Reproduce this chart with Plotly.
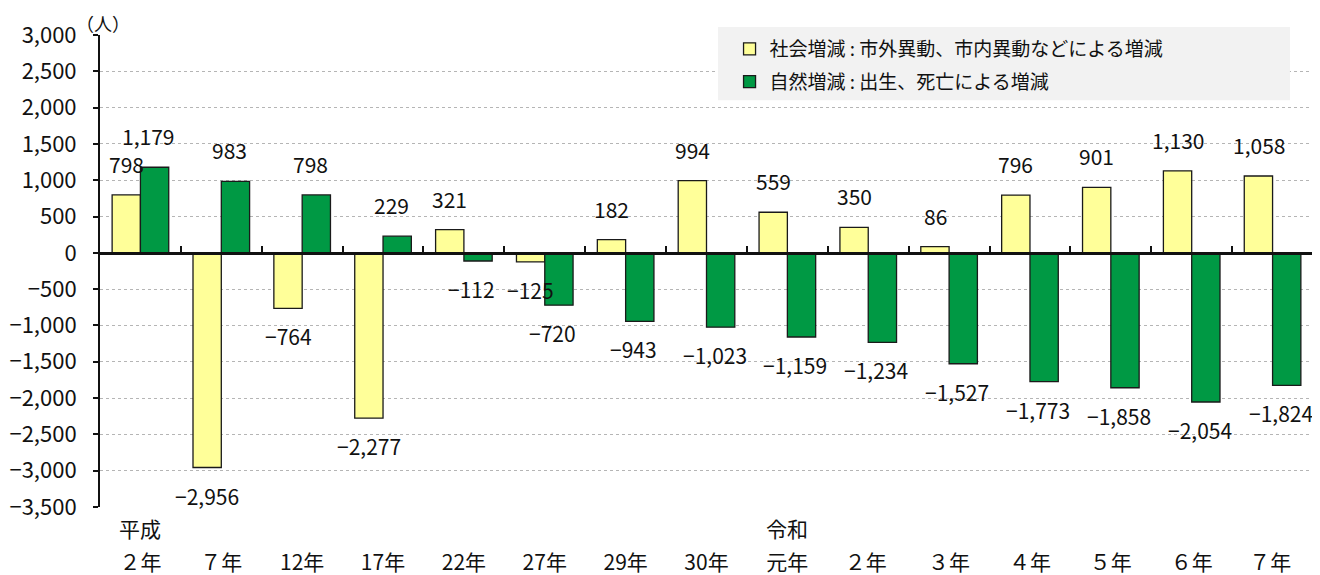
import plotly.graph_objects as go

categories = ["２年", "７年", "12年", "17年", "22年", "27年", "29年", "30年",
              "元年", "２年 ", "３年", "４年", "５年", "６年", "７年 "]
era_labels = {0: "平成", 8: "令和"}
social = [798, -2956, -764, -2277, 321, -125, 182, 994, 559, 350, 86, 796, 901, 1130, 1058]
natural = [1179, 983, 798, 229, -112, -720, -943, -1023, -1159, -1234, -1527, -1773, -1858, -2054, -1824]
series_names = ["社会増減 : 市外異動、市内異動などによる増減", "自然増減 : 出生、死亡による増減"]
y_ticks = list(range(-3500, 3001, 500))

FONT = "Noto Sans CJK JP, Noto Sans, sans-serif"
YELLOW = "#FFFF99"
GREEN = "#009944"
TXT = "#111111"

fig = go.Figure()
fig.add_trace(go.Bar(x=categories, y=social, name=series_names[0], legendgroup="a",
                     marker=dict(color=YELLOW, line=dict(color="#1a1a1a", width=1.3))))
fig.add_trace(go.Bar(x=categories, y=natural, name=series_names[1], legendgroup="b",
                     marker=dict(color=GREEN, line=dict(color="#1a1a1a", width=1.3))))

def fmt(v):
    s = f"{abs(v):,}"
    return ("−" + s) if v < 0 else s

annotations = []
for vals, xs in ((social, -14), (natural, 8)):
    for c, v in zip(categories, vals):
        annotations.append(dict(x=c, y=v, xref="x", yref="y", text=fmt(v), showarrow=False,
                                xshift=xs, yshift=31 if v >= 0 else -28, yanchor="middle",
                                font=dict(size=21, color=TXT, family=FONT)))
for i, t in era_labels.items():
    annotations.append(dict(x=categories[i], y=0, xref="x", yref="paper", text=t, showarrow=False,
                            yanchor="middle", yshift=-21, font=dict(size=21, color=TXT, family=FONT)))
annotations.append(dict(x=0, y=1, xref="paper", yref="paper", text="（人）", showarrow=False,
                        xanchor="center", yanchor="middle", xshift=3, yshift=12,
                        font=dict(size=18, color=TXT, family=FONT)))

n = len(categories)
fig.update_layout(
    width=1312, height=567,
    margin=dict(l=92, r=7, t=27, b=68),
    paper_bgcolor="white", plot_bgcolor="white",
    barmode="group", bargap=0.3, bargroupgap=0,
    font=dict(family=FONT, size=19, color=TXT),
    showlegend=True,
    legend=dict(x=0.519, y=1.0106, xanchor="left", yanchor="top",
                bgcolor="rgba(0,0,0,0)", borderwidth=0,
                font=dict(size=19, family=FONT, color=TXT),
                itemwidth=30, tracegroupgap=5),
    shapes=[dict(type="rect", xref="paper", yref="paper", x0=0.5095, x1=0.981, y0=0.862, y1=1.017,
                 fillcolor="#f2f2f2", line=dict(width=0), layer="above")],
    annotations=annotations,
    xaxis=dict(type="category", categoryarray=categories, range=[-0.5, n - 0.5],
               showline=False, showgrid=False, ticks="", ticklabelstandoff=41, automargin=False,
               tickfont=dict(size=21, family=FONT, color=TXT)),
    xaxis2=dict(overlaying="x", anchor="free", position=3500 / 6500, range=[-0.5, n - 0.5],
                showline=True, linecolor=TXT, linewidth=2.5, showgrid=False, automargin=False,
                ticks="inside", ticklen=6, tickwidth=2, tickcolor=TXT,
                tickvals=[i + 0.5 for i in range(n)], showticklabels=False, zeroline=False),
    yaxis=dict(range=[-3500, 3000], tickvals=y_ticks, tickformat=",",
               showline=True, linecolor=TXT, linewidth=2, automargin=False,
               ticks="outside", ticklen=5, tickwidth=2, tickcolor=TXT,
               showgrid=True, gridcolor="#b5b5b5", griddash="dot", gridwidth=1,
               zeroline=False, ticklabelstandoff=12,
               tickfont=dict(size=22, family=FONT, color=TXT)),
)
fig.add_trace(go.Scatter(x=[-0.5, n - 0.5], y=[0, 0], xaxis="x2", mode="lines",
                         line=dict(width=0), showlegend=False, hoverinfo="skip"))

fig.write_html("out.html")
